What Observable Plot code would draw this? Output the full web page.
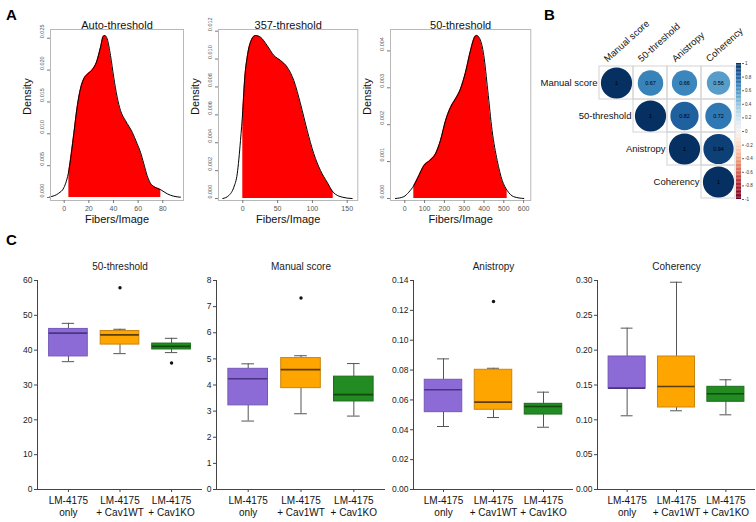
<!DOCTYPE html>
<html><head><meta charset="utf-8">
<script src="https://cdn.jsdelivr.net/npm/d3@7"></script>
<script src="https://cdn.jsdelivr.net/npm/@observablehq/plot@0.6"></script>
<style>
body{margin:0;background:#fff;}
#fig{position:relative;width:756px;height:522px;overflow:hidden;background:#fff;font-family:"Liberation Sans",Arial,Helvetica,sans-serif;}
.lett{position:absolute;font-weight:bold;font-size:15px;line-height:16px;color:#000;}
</style></head><body>
<div id="fig">
  <div class="lett" style="left:6px;top:7px;">A</div>
  <div class="lett" style="left:544px;top:7px;">B</div>
  <div class="lett" style="left:6px;top:232px;">C</div>
</div>
<script>
// ---------- Panel A: density curves (x = Fibers/Image, d = density) ----------
const autoX = [-11.7, -4.4, -0.3, 3.8, 7.8, 10.5, 13.2, 15.9, 19.2, 22.7, 26.2, 29.5, 31.6, 33.0, 34.9, 37.6, 40.2, 43.0, 45.7, 49.7, 55.2, 59.2, 61.9, 64.6, 67.3, 70.0, 72.7, 76.8, 78.4, 83.6, 88.9, 94.3];
const autoD = [0.0001, 0.00068, 0.00152, 0.00424, 0.0100, 0.01418, 0.01705, 0.01863, 0.01941, 0.02004, 0.02124, 0.02359, 0.02527, 0.02542, 0.0249, 0.02228, 0.01888, 0.01574, 0.01365, 0.01208, 0.01025, 0.00843, 0.00711, 0.00529, 0.00345, 0.00224, 0.00173, 0.00136, 0.00121, 0.00058, 0.0002, 0.00005];
const autoRange = [3.8, 78.4];

const t357X = [-28.7, -20.1, -12.9, -8.0, -3.3, 0, 2.9, 6.3, 11.1, 18.2, 25.4, 35.0, 44.6, 54.2, 63.8, 73.3, 82.9, 92.5, 102.0, 111.6, 121.2, 129.9, 142.8, 157.1];
const t357D = [0, 0.00022, 0.00081, 0.00177, 0.00416, 0.00631, 0.0087, 0.01013, 0.01121, 0.01169, 0.01157, 0.01097, 0.01026, 0.0099, 0.00942, 0.00846, 0.00679, 0.00488, 0.00321, 0.00201, 0.00117, 0.00045, 0.0001, 0];
const t357Range = [0, 129.9];

const t50X = [-47, -5, 20, 45.5, 70.7, 96, 126, 155, 180, 205.6, 231, 256, 281.3, 306.6, 331.8, 352, 362, 378.8, 399, 419, 441, 466.7, 492, 517, 550, 601];
const t50D = [0, 0.00005, 0.00017, 0.00035, 0.00062, 0.00089, 0.00103, 0.00121, 0.00157, 0.00211, 0.00247, 0.0027, 0.00297, 0.00342, 0.00401, 0.00437, 0.00442, 0.00433, 0.00388, 0.00293, 0.00184, 0.00103, 0.00049, 0.00022, 0.00005, 0];
const t50Range = [45.5, 517];

const autoXTicks = [0, 20, 40, 60, 80];
const autoYTicks = [0, 0.005, 0.010, 0.015, 0.020, 0.025];
const t357XTicks = [0, 50, 100, 150];
const t357YTicks = [0, 0.002, 0.004, 0.006, 0.008, 0.010, 0.012];
const t50XTicks = [0, 100, 200, 300, 400, 500, 600];
const t50YTicks = [0, 0.001, 0.002, 0.003, 0.004];

// ---------- Panel B: correlation matrix ----------
const corrVars = ["Manual score", "50-threshold", "Anistropy", "Coherency"];
const corrManual = [1, 0.67, 0.66, 0.56];
const corr50 = [0.67, 1, 0.82, 0.72];
const corrAnis = [0.66, 0.82, 1, 0.94];
const corrCoh = [0.56, 0.72, 0.94, 1];
const corrLegendTicks = [-1, -0.8, -0.6, -0.4, -0.2, 0, 0.2, 0.4, 0.6, 0.8, 1];

// ---------- Panel C: box plots [lower whisker, Q1, median, Q3, upper whisker] ----------
const boxGroups = ["LM-4175\nonly", "LM-4175\n+ Cav1WT", "LM-4175\n+ Cav1KO"];
const box50 = [[36.7, 38.2, 44.9, 46.1, 47.7], [39.0, 41.6, 44.4, 45.5, 46.0], [39.3, 40.2, 41.1, 41.9, 43.4]];
const out50 = [[1, 57.9], [2, 36.3]];
const boxManual = [[2.62, 3.22, 4.24, 4.62, 4.81], [2.90, 3.88, 4.59, 5.03, 5.12], [2.81, 3.37, 3.63, 4.32, 4.82]];
const outManual = [[1, 7.33]];
const boxAnis = [[0.0422, 0.0518, 0.0668, 0.0735, 0.0875], [0.0482, 0.0534, 0.0585, 0.0802, 0.0812], [0.0417, 0.0502, 0.0556, 0.0574, 0.0652]];
const outAnis = [[1, 0.1259]];
const boxCoh = [[0.1058, 0.1450, 0.1455, 0.1909, 0.2316], [0.1130, 0.1177, 0.1478, 0.1909, 0.2975], [0.1072, 0.1259, 0.1374, 0.1474, 0.1575]];
const outCoh = [];
const yTicks50 = [0, 10, 20, 30, 40, 50, 60];
const yTicksManual = [0, 1, 2, 3, 4, 5, 6, 7, 8];
const yTicksAnis = [0, 0.02, 0.04, 0.06, 0.08, 0.10, 0.12, 0.14];
const yTicksCoh = [0, 0.05, 0.10, 0.15, 0.20, 0.25, 0.30];

// ---------- helpers ----------
const FONT = "'Liberation Sans', Arial, Helvetica, sans-serif";
const fig = document.getElementById("fig");
function place(node, left, top) {
  const d = document.createElement("div");
  d.style.position = "absolute";
  d.style.left = left + "px";
  d.style.top = top + "px";
  d.style.width = node.getAttribute("width") + "px";
  d.appendChild(node);
  fig.appendChild(d);
}
const baseStyle = {fontFamily: FONT, background: "transparent", overflow: "visible"};

function densityPanel(cfg) {
  const pts = cfg.xs.map((x, i) => ({x, d: cfg.ds[i]}));
  const filled = pts.filter(p => p.x >= cfg.range[0] - 1e-9 && p.x <= cfg.range[1] + 1e-9);
  const svg = Plot.plot({
    width: cfg.width, height: 230,
    marginLeft: cfg.ml, marginRight: cfg.mr, marginTop: 29, marginBottom: 30,
    style: baseStyle,
    x: {domain: cfg.xDomain, axis: null},
    y: {domain: cfg.yDomain, axis: null},
    marks: [
      Plot.areaY(filled, {x: "x", y: "d", fill: "#ff0000", curve: "monotone-x"}),
      Plot.lineY(pts, {x: "x", y: "d", stroke: "#000", strokeWidth: 1, curve: "monotone-x"}),
      Plot.frame({stroke: "#b8b8b8"}),
      Plot.axisX({ticks: cfg.xTicks, tickSize: 3, tickPadding: 3, fontSize: 7, stroke: "#777", fill: "#555", label: null, tickFormat: d => String(d)}),
      Plot.axisY({ticks: cfg.yTicks, tickSize: 3, tickFormat: () => "", stroke: "#777", label: null}),
      Plot.text(cfg.yTicks, {y: d => d, frameAnchor: "left", dx: -8, rotate: -90, text: d => d.toFixed(3), fontSize: 5.5, fill: "#555"}),
      Plot.text([cfg.title], {frameAnchor: "top", dy: -8, fontSize: 11, text: d => d, fill: "#111"}),
      Plot.text(["Density"], {frameAnchor: "left", dx: -23, rotate: -90, fontSize: 11, text: d => d, fill: "#111"}),
      Plot.text(["Fibers/Image"], {frameAnchor: "bottom", dy: 22, fontSize: 11, text: d => d, fill: "#111"})
    ]
  });
  place(svg, cfg.left, 0);
}

densityPanel({left: 0, width: 195, ml: 50, mr: 12, title: "Auto-threshold", xs: autoX, ds: autoD, range: autoRange,
  xDomain: [-11.1, 96.8], yDomain: [-0.00047, 0.02637], xTicks: autoXTicks, yTicks: autoYTicks});
densityPanel({left: 190, width: 175, ml: 28, mr: 7.7, title: "357-threshold", xs: t357X, ds: t357D, range: t357Range,
  xDomain: [-34.9, 165.2], yDomain: [-0.00014, 0.01212], xTicks: t357XTicks, yTicks: t357YTicks});
densityPanel({left: 362, width: 175, ml: 28, mr: 6.7, title: "50-threshold", xs: t50X, ds: t50D, range: t50Range,
  xDomain: [-72.2, 636.4], yDomain: [-0.000054, 0.00458], xTicks: t50XTicks, yTicks: t50YTicks});

// ---------- Panel B ----------
const corrRows = [corrManual, corr50, corrAnis, corrCoh];
const corrCells = [];
corrVars.forEach((r, i) => corrVars.forEach((c, j) => {
  if (j >= i) corrCells.push({row: r, col: c, v: corrRows[i][j]});
}));
const corrSvg = Plot.plot({
  width: 236, height: 230,
  marginLeft: 78, marginRight: 21, marginTop: 64, marginBottom: 31,
  style: baseStyle,
  x: {type: "band", domain: corrVars, padding: 0, axis: null},
  y: {type: "band", domain: corrVars, padding: 0, axis: null},
  color: {type: "linear", domain: [-1, 1], scheme: "rdbu"},
  r: {type: "sqrt", domain: [0, 1], range: [0, 15.6]},
  marks: [
    Plot.cell(corrCells, {x: "col", y: "row", fill: "none", stroke: "#d4d4d4"}),
    Plot.dot(corrCells, {x: "col", y: "row", r: d => Math.abs(d.v), fill: "v"}),
    Plot.text(corrCells, {x: "col", y: "row", text: d => d.v === 1 ? "1" : d.v.toFixed(2), fontSize: 5.5, fill: "#000"}),
    Plot.text(corrVars, {x: d => d, y: d => d, dx: -19, textAnchor: "end", fontSize: 9.5, fill: "#111", text: d => d}),
    Plot.text(corrVars, {x: d => d, frameAnchor: "top", dx: -9, dy: -2, rotate: -42, textAnchor: "start", lineAnchor: "bottom", fontSize: 9.5, fill: "#111", text: d => d})
  ]
});
place(corrSvg, 520, 0);

const legendSteps = d3.range(-1, 1, 0.02);
const legSvg = Plot.plot({
  width: 30, height: 152,
  marginLeft: 10, marginRight: 15, marginTop: 8, marginBottom: 8,
  style: baseStyle,
  x: {domain: [0, 1], axis: null},
  y: {domain: [-1, 1], axis: null},
  color: {type: "linear", domain: [-1, 1], scheme: "rdbu"},
  marks: [
    Plot.rect(legendSteps, {x1: 0, x2: 1, y1: d => d, y2: d => d + 0.02, fill: d => d + 0.01}),
    Plot.axisY({anchor: "right", ticks: corrLegendTicks, tickSize: 2, tickPadding: 1.5, fontSize: 4.5, stroke: "#666", fill: "#333", label: null, tickFormat: d => String(Math.round(d * 10) / 10)})
  ]
});
place(legSvg, 726, 55);

// ---------- Panel C ----------
const boxFill = ["#8d6bd6", "#ffa500", "#228b22"];
const boxStroke = ["#7359b8", "#c98512", "#1b6e1b"];
const medStroke = ["#4a3482", "#5a3e0c", "#0f4a0f"];
const whisker = "#555";

function boxPanel(cfg) {
  const stats = cfg.box.map((b, i) => ({i, lo: b[0], q1: b[1], med: b[2], q3: b[3], hi: b[4]}));
  const outs = cfg.out.map(o => ({i: o[0], v: o[1]}));
  const svg = Plot.plot({
    width: cfg.width, height: 272,
    marginLeft: cfg.ml, marginRight: cfg.mr, marginTop: 30, marginBottom: 33,
    style: baseStyle,
    x: {domain: [-0.6, 2.6], axis: null},
    y: {domain: cfg.yDomain, axis: null},
    color: {type: "identity"},
    marks: [
      Plot.ruleX(stats, {x: "i", y1: "q3", y2: "hi", stroke: whisker}),
      Plot.ruleX(stats, {x: "i", y1: "lo", y2: "q1", stroke: whisker}),
      Plot.ruleY(stats, {y: "hi", x1: d => d.i - 0.12, x2: d => d.i + 0.12, stroke: whisker}),
      Plot.ruleY(stats, {y: "lo", x1: d => d.i - 0.12, x2: d => d.i + 0.12, stroke: whisker}),
      Plot.rect(stats, {x1: d => d.i - 0.375, x2: d => d.i + 0.375, y1: "q1", y2: "q3", fill: d => boxFill[d.i], stroke: d => boxStroke[d.i]}),
      Plot.ruleY(stats, {y: "med", x1: d => d.i - 0.375, x2: d => d.i + 0.375, stroke: d => medStroke[d.i], strokeWidth: 1.6}),
      Plot.dot(outs, {x: "i", y: "v", r: 1.7, fill: "#111"}),
      Plot.ruleX([-0.6], {stroke: "#444"}),
      Plot.ruleY([cfg.yDomain[0]], {stroke: "#444"}),
      Plot.axisY({ticks: cfg.yTicks, tickSize: 3, tickPadding: 2, fontSize: 8.5, stroke: "#444", fill: "#222", label: null, tickFormat: cfg.fmt}),
      Plot.axisX({ticks: [0, 1, 2], tickSize: 3, tickPadding: 3, fontSize: 10, lineHeight: 1.18, stroke: "#444", fill: "#111", label: null, tickFormat: i => boxGroups[i]}),
      Plot.text([cfg.title], {frameAnchor: "top", dy: -18, fontSize: 10, text: d => d, fill: "#222"})
    ]
  });
  place(svg, cfg.left, 250);
}

boxPanel({left: 0, width: 205, ml: 37, mr: 3, title: "50-threshold", box: box50, out: out50, yDomain: [0, 60], yTicks: yTicks50, fmt: d => String(d)});
boxPanel({left: 180, width: 210, ml: 36, mr: 5, title: "Manual score", box: boxManual, out: outManual, yDomain: [0, 8], yTicks: yTicksManual, fmt: d => String(d)});
boxPanel({left: 375, width: 200, ml: 38, mr: 2, title: "Anistropy", box: boxAnis, out: outAnis, yDomain: [0, 0.14], yTicks: yTicksAnis, fmt: d => d.toFixed(2)});
boxPanel({left: 560, width: 196, ml: 37, mr: 1, title: "Coherency", box: boxCoh, out: outCoh, yDomain: [0, 0.30], yTicks: yTicksCoh, fmt: d => d.toFixed(2)});
</script>
</body></html>
